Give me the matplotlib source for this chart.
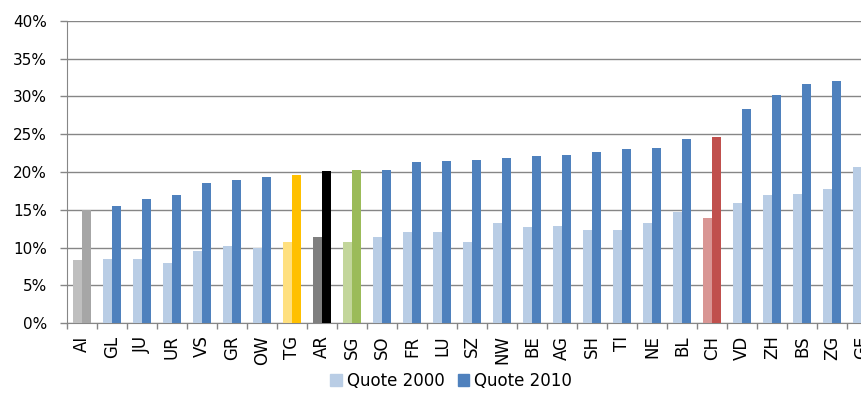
import numpy as np
import matplotlib.pyplot as plt
from matplotlib.ticker import PercentFormatter
from matplotlib.patches import Patch

kantone = ['AI', 'GL', 'JU', 'UR', 'VS', 'GR', 'OW', 'TG', 'AR', 'SG', 'SO', 'FR', 'LU', 'SZ',
           'NW', 'BE', 'AG', 'SH', 'TI', 'NE', 'BL', 'CH', 'VD', 'ZH', 'BS', 'ZG', 'GE']
quote_2000 = [8.3, 8.5, 8.5, 8.0, 9.6, 10.2, 9.9, 10.7, 11.4, 10.7, 11.4, 12.1, 12.1, 10.7,
              13.2, 12.7, 12.9, 12.3, 12.3, 13.3, 14.7, 13.9, 15.9, 17.0, 17.1, 17.7, 20.7]
quote_2010 = [15.0, 15.5, 16.4, 17.0, 18.6, 19.0, 19.3, 19.6, 20.1, 20.2, 20.3, 21.3, 21.5, 21.6,
              21.9, 22.1, 22.3, 22.6, 23.0, 23.2, 24.4, 24.6, 28.4, 30.2, 31.6, 32.1, 33.4]

# Sonderfarben fuer hervorgehobene Kantone
farben_2000 = {'AI': '#BFBFBF', 'TG': '#FFE07F', 'AR': '#7F7F7F', 'SG': '#C3D69B', 'CH': '#D99694'}
farben_2010 = {'AI': '#A6A6A6', 'TG': '#FFC000', 'AR': '#000000', 'SG': '#9BBB59', 'CH': '#C0504D'}
hell = '#B9CDE5'
dunkel = '#4F81BD'

c1 = [farben_2000.get(k, hell) for k in kantone]
c2 = [farben_2010.get(k, dunkel) for k in kantone]

fig = plt.figure(figsize=(8.62, 4.16), dpi=100)
# Achse reicht ueber den rechten Rand hinaus (GE ist im Original abgeschnitten)
ax = fig.add_axes([67 / 862, 93 / 416, 810 / 862, 302 / 416])

x = np.arange(len(kantone))
w = 0.3
ax.bar(x - w / 2, quote_2000, w, color=c1, zorder=3)
ax.bar(x + w / 2, quote_2010, w, color=c2, zorder=3)

ax.set_xlim(-0.5, len(kantone) - 0.5)
ax.set_ylim(0, 40)
ax.set_yticks(np.arange(0, 41, 5))
ax.yaxis.set_major_formatter(PercentFormatter(decimals=0))
ax.set_xticks(x)
ax.set_xticklabels(kantone, rotation=90, fontsize=12)
ax.set_xticks(np.arange(-0.5, len(kantone), 1), minor=True)
ax.tick_params(axis='x', which='major', length=0, pad=9)
ax.tick_params(axis='x', which='minor', length=4.5, color='#868686', width=1)
ax.tick_params(axis='y', length=5, color='#868686', width=1, labelsize=11, pad=9.5)
ax.grid(axis='y', color='#868686', linewidth=1, zorder=0)
for s in ['top', 'right']:
    ax.spines[s].set_visible(False)
ax.spines['left'].set_color('#868686')
ax.spines['bottom'].set_color('#868686')

handles = [Patch(color=hell, label='Quote 2000'), Patch(color=dunkel, label='Quote 2010')]
fig.legend(handles=handles, loc='center', bbox_to_anchor=(451 / 862, 35 / 416), ncol=2, frameon=False,
           fontsize=12, handlelength=0.7, handleheight=0.7, handletextpad=0.3, columnspacing=0.8)

fig.savefig('out.png', dpi=100)
